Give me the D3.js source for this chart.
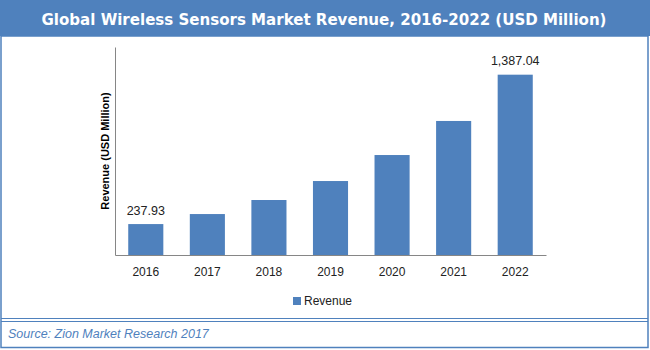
<!DOCTYPE html>
<html>
<head>
<meta charset="utf-8">
<script src="https://cdn.jsdelivr.net/npm/d3@7/dist/d3.min.js"></script>
<style>
  html, body { margin: 0; padding: 0; background: #fff; }
  svg { display: block; }
</style>
</head>
<body>
<svg id="chart" width="650" height="350"></svg>
<script>
const titleText = "Global Wireless Sensors Market Revenue, 2016-2022 (USD Million)";
const yAxisTitle = "Revenue (USD Million)";
const seriesName = "Revenue";
const sourceText = "Source: Zion Market Research 2017";
const years = ["2016", "2017", "2018", "2019", "2020", "2021", "2022"];
const revenue = [237.93, 315, 423, 569, 769, 1031, 1387.04];
const labelledYears = ["2016", "2022"];
const yMax = 1600;

const blue = "#4f81bd";
const svg = d3.select("#chart");

// title band
svg.append("rect").attr("x", 0).attr("y", 0).attr("width", 650).attr("height", 36).attr("fill", blue);
svg.append("text")
  .attr("x", 324).attr("y", 25)
  .attr("text-anchor", "middle")
  .attr("font-family", "DejaVu Sans, Verdana, sans-serif")
  .attr("font-weight", "bold")
  .attr("font-size", 15)
  .attr("textLength", 565).attr("lengthAdjust", "spacingAndGlyphs")
  .attr("fill", "#fff")
  .text(titleText);

// outer frame
svg.append("rect").attr("x", 1).attr("y", 36).attr("width", 647).attr("height", 311.5)
  .attr("fill", "none").attr("stroke", blue).attr("stroke-width", 1.5);
svg.append("line").attr("x1", 1).attr("x2", 648).attr("y1", 318.5).attr("y2", 318.5)
  .attr("stroke", blue).attr("stroke-width", 1);
svg.append("line").attr("x1", 1).attr("x2", 648).attr("y1", 321.5).attr("y2", 321.5)
  .attr("stroke", blue).attr("stroke-width", 1);

// scales
const x = d3.scaleBand().domain(years).range([115, 546]).paddingInner(0.43).paddingOuter(0.215);
const y = d3.scaleLinear().domain([0, yMax]).range([255, 47]);

const data = years.map((yr, i) => ({ year: yr, value: revenue[i] }));

// bars
svg.append("g").selectAll("rect").data(data).join("rect")
  .attr("x", d => x(d.year))
  .attr("y", d => y(d.value))
  .attr("width", x.bandwidth())
  .attr("height", d => y(0) - y(d.value))
  .attr("fill", blue);

// axes
const xAxis = svg.append("g").attr("transform", `translate(0,${y(0)})`)
  .call(d3.axisBottom(x).tickSize(0).tickPadding(12.5).tickSizeOuter(0));
xAxis.select(".domain").attr("stroke", "#868686");
xAxis.selectAll("text").attr("font-family", "Liberation Sans, Arial, sans-serif")
  .attr("font-size", 12).attr("fill", "#222");

const yAxis = svg.append("g").attr("transform", `translate(${x.range()[0]},0)`)
  .call(d3.axisLeft(y).tickValues([]).tickSizeOuter(0));
yAxis.select(".domain").attr("stroke", "#868686");

// y axis title
svg.append("text")
  .attr("transform", `translate(109,${(y(0) + y(yMax)) / 2}) rotate(-90)`)
  .attr("text-anchor", "middle")
  .attr("font-family", "Liberation Sans, Arial, sans-serif")
  .attr("font-weight", "bold")
  .attr("font-size", 11)
  .attr("fill", "#000")
  .text(yAxisTitle);

// data labels
const fmt = d3.format(",.2f");
svg.append("g").selectAll("text").data(data.filter(d => labelledYears.includes(d.year))).join("text")
  .attr("x", d => x(d.year) + x.bandwidth() / 2)
  .attr("y", d => y(d.value) - 9.5)
  .attr("text-anchor", "middle")
  .attr("font-family", "Liberation Sans, Arial, sans-serif")
  .attr("font-size", 12.5)
  .attr("fill", "#222")
  .text(d => fmt(d.value));

// legend
svg.append("rect").attr("x", 293).attr("y", 297).attr("width", 8).attr("height", 8).attr("fill", blue);
svg.append("text").attr("x", 304).attr("y", 305)
  .attr("font-family", "Liberation Sans, Arial, sans-serif")
  .attr("font-size", 12).attr("fill", "#222")
  .text(seriesName);

// source
svg.append("text").attr("x", 8).attr("y", 338)
  .attr("font-family", "Liberation Sans, Arial, sans-serif")
  .attr("font-style", "italic")
  .attr("font-size", 12.5)
  .attr("fill", blue)
  .text(sourceText);
</script>
</body>
</html>
